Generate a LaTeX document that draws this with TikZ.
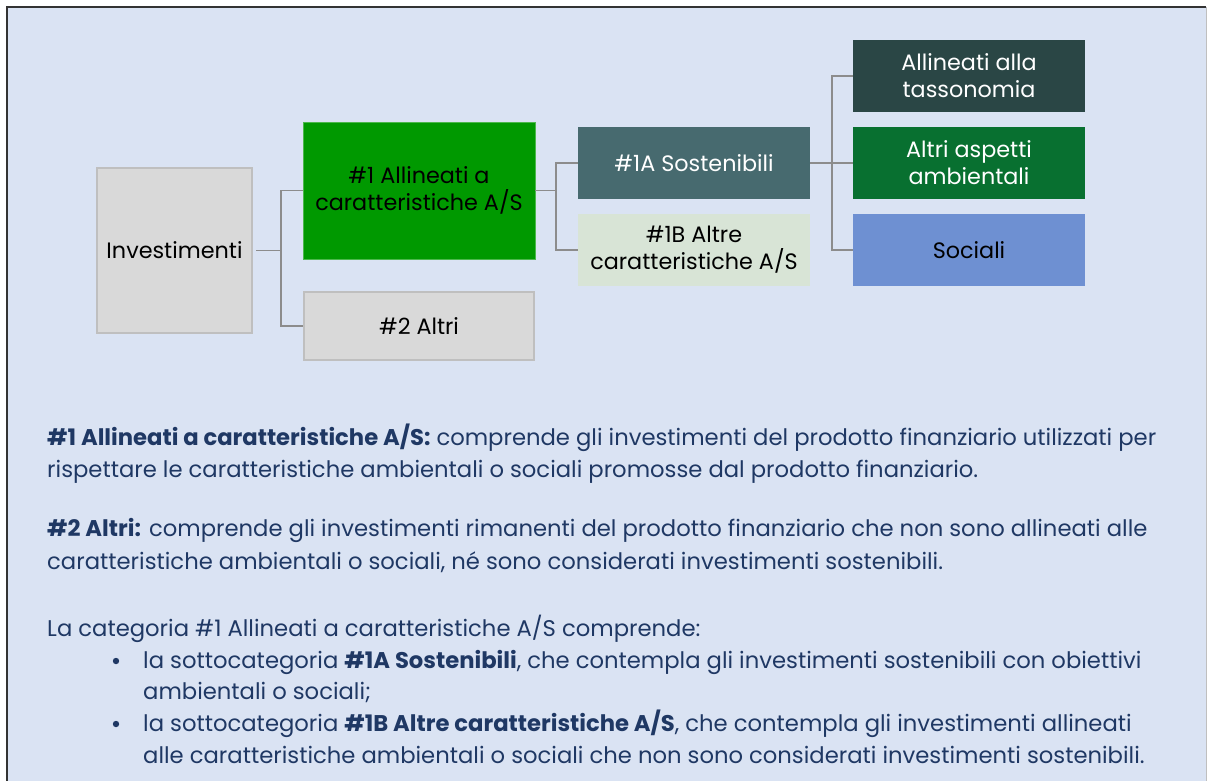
\documentclass[tikz,border=0pt]{standalone}
\usepackage{fontspec}
\setmainfont{Poppins}
\usetikzlibrary{positioning}
\definecolor{bgc}{HTML}{DAE3F3}
\definecolor{txtc}{HTML}{1F3864}
\definecolor{greyfill}{HTML}{D9D9D9}
\definecolor{greyline}{HTML}{BFBFBF}
\definecolor{conncol}{HTML}{8C8C8C}
\definecolor{greenA}{HTML}{009900}
\definecolor{tealA}{HTML}{476A6F}
\definecolor{paleB}{HTML}{D8E4D6}
\definecolor{darkT}{HTML}{2A4645}
\definecolor{greenD}{HTML}{087030}
\definecolor{blueS}{HTML}{6E90D2}
\tikzset{
  box/.style={rectangle, align=center, inner sep=2pt, font=\fontsize{22.3}{27}\selectfont},
  greybox/.style={box, fill=greyfill, draw=greyline, line width=2pt},
  conn/.style={draw=conncol, line width=1.2pt},
  para/.style={anchor=base west, inner sep=0pt, text=txtc, font=\fontsize{22.7}{28}\selectfont},
}
\begin{document}
\begin{tikzpicture}[x=1pt,y=-1pt]
\useasboundingbox (0,0) rectangle (1207,780);
\fill[bgc] (7,7) rectangle (1206,782);
\draw[black!80, line width=2pt] (7,782) -- (7,7) -- (1206,7);
\draw[black!25, line width=1pt] (1206,7) -- (1206,782);

% diagram
\node[greybox, minimum width=155pt, minimum height=165pt] (inv) at (174.5,250.5) {Investimenti};
\node[box, fill=greenA, draw=green!60!black!70, line width=0.6pt, minimum width=232pt, minimum height=137pt] (a1) at (419,190.5) {\#1 Allineati a\\caratteristiche A/S};
\node[greybox, minimum width=230pt, minimum height=68pt] (a2) at (419,326) {\#2 Altri};
\node[box, fill=tealA, text=white, minimum width=232pt, minimum height=72pt] (s1a) at (694,163) {\#1A Sostenibili};
\node[box, fill=paleB, minimum width=232pt, minimum height=72pt] (s1b) at (694,250) {\#1B Altre\\caratteristiche A/S};
\node[box, fill=darkT, text=white, minimum width=232pt, minimum height=72pt] (tax) at (969,76) {Allineati alla\\tassonomia};
\node[box, fill=greenD, text=white, minimum width=232pt, minimum height=72pt] (amb) at (969,163) {Altri aspetti\\ambientali};
\node[box, fill=blueS, minimum width=232pt, minimum height=72pt] (soc) at (969,250) {Sociali};

\coordinate (bus1) at (281,0);
\coordinate (bus2) at (556,0);
\coordinate (bus3) at (832,0);
\draw[conn, shorten <=3pt] (inv.east) -- (inv.east -| bus1);
\draw[conn] (a1.west) -- (a1.west -| bus1) |- (a2.west);
\draw[conn] (a1.east) -- (a1.east -| bus2);
\draw[conn] (s1a.west) -- (s1a.west -| bus2) |- (s1b.west);
\draw[conn] (s1a.east) -- (s1a.east -| bus3);
\draw[conn] (tax.west) -- (tax.west -| bus3) |- (soc.west);
\draw[conn] (amb.west) -- (amb.west -| bus3);

% text
\node[para] (p1) at (47,445) {\textbf{\#1 Allineati a caratteristiche A/S:} comprende gli investimenti del prodotto finanziario utilizzati per};
\node[para] (p2) at (47,477) {rispettare le caratteristiche ambientali o sociali promosse dal prodotto finanziario.};
\node[para] (p3) at (47,536) {\textbf{\#2 Altri:} comprende gli investimenti rimanenti del prodotto finanziario che non sono allineati alle};
\node[para] (p4) at (47,569) {caratteristiche ambientali o sociali, né sono considerati investimenti sostenibili.};
\node[para] (p5) at (47,636) {La categoria \#1 Allineati a caratteristiche A/S comprende:};
\fill[txtc] (116,661) circle (3.2pt);
\node[para] (p6) at (143,668) {la sottocategoria \textbf{\#1A Sostenibili}, che contempla gli investimenti sostenibili con obiettivi};
\node[para] (p7) at (143,699) {ambientali o sociali;};
\fill[txtc] (116,724) circle (3.2pt);
\node[para] (p8) at (143,731) {la sottocategoria \textbf{\#1B Altre caratteristiche A/S}, che contempla gli investimenti allineati};
\node[para] (p9) at (143,763) {alle caratteristiche ambientali o sociali che non sono considerati investimenti sostenibili.};
\end{tikzpicture}
\end{document}
